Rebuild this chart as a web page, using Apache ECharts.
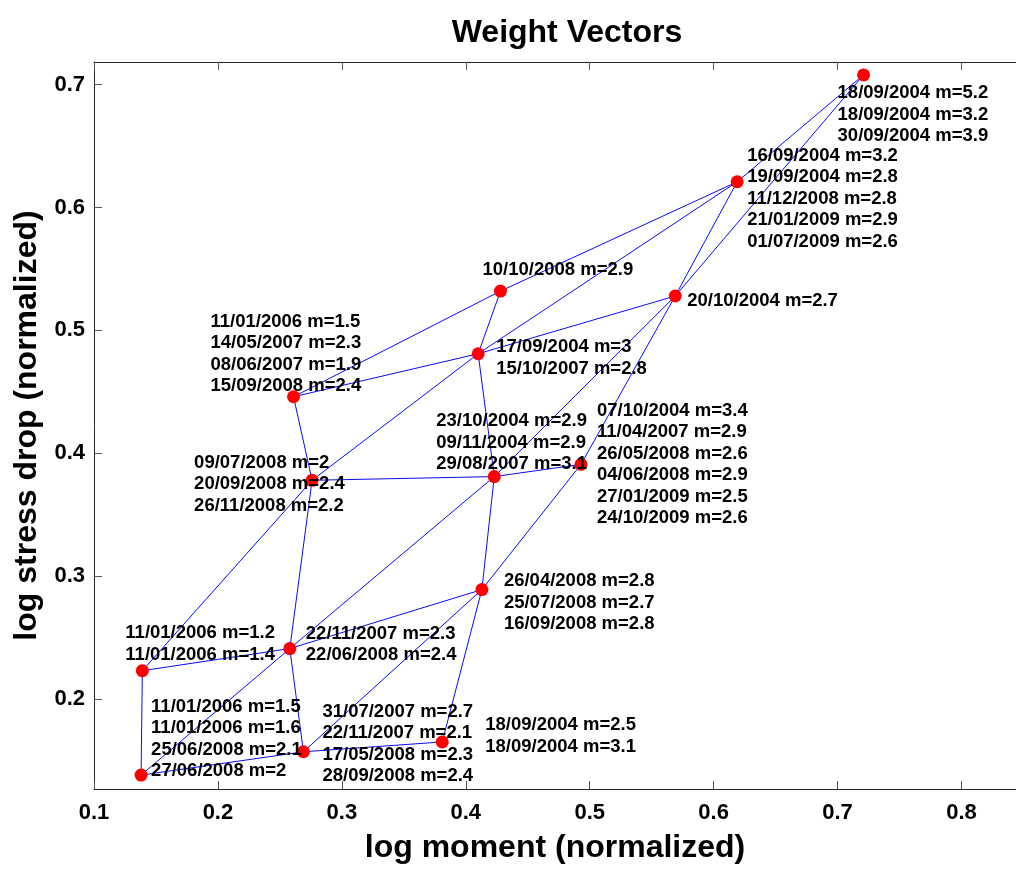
<!DOCTYPE html>
<html>
<head>
<meta charset="utf-8">
<script src="https://cdn.jsdelivr.net/npm/echarts@6/dist/echarts.min.js"></script>
<style>
  html, body { margin: 0; padding: 0; background: #fff; }
  #chart { width: 1016px; height: 869px; }
</style>
</head>
<body>
<div id="chart"></div>
<script>
// weight vector positions (log moment, log stress drop)
const nodeX = [0.721, 0.619, 0.569, 0.428, 0.410, 0.261, 0.276, 0.423, 0.493, 0.413, 0.258, 0.139, 0.138, 0.269, 0.381];
const nodeY = [0.708, 0.621, 0.528, 0.532, 0.481, 0.446, 0.378, 0.381, 0.391, 0.289, 0.241, 0.223, 0.138, 0.157, 0.165];

// events mapped to each node
const nodeEvents = [
    ['18/09/2004 m=5.2', '18/09/2004 m=3.2', '30/09/2004 m=3.9'],
    ['16/09/2004 m=3.2', '19/09/2004 m=2.8', '11/12/2008 m=2.8', '21/01/2009 m=2.9', '01/07/2009 m=2.6'],
    ['20/10/2004 m=2.7'],
    ['10/10/2008 m=2.9'],
    ['17/09/2004 m=3', '15/10/2007 m=2.8'],
    ['11/01/2006 m=1.5', '14/05/2007 m=2.3', '08/06/2007 m=1.9', '15/09/2008 m=2.4'],
    ['09/07/2008 m=2', '20/09/2008 m=2.4', '26/11/2008 m=2.2'],
    ['23/10/2004 m=2.9', '09/11/2004 m=2.9', '29/08/2007 m=3.1'],
    ['07/10/2004 m=3.4', '11/04/2007 m=2.9', '26/05/2008 m=2.6', '04/06/2008 m=2.9', '27/01/2009 m=2.5', '24/10/2009 m=2.6'],
    ['26/04/2008 m=2.8', '25/07/2008 m=2.7', '16/09/2008 m=2.8'],
    ['22/11/2007 m=2.3', '22/06/2008 m=2.4'],
    ['11/01/2006 m=1.2', '11/01/2006 m=1.4'],
    ['11/01/2006 m=1.5', '11/01/2006 m=1.6', '25/06/2008 m=2.1', '27/06/2008 m=2'],
    ['31/07/2007 m=2.7', '22/11/2007 m=2.1', '17/05/2008 m=2.3', '28/09/2008 m=2.4'],
    ['18/09/2004 m=2.5', '18/09/2004 m=3.1']
];

// neighbour links between nodes (index pairs)
const edges = [
    [0, 1], [0, 2], [1, 2], [1, 3], [1, 4], [2, 4], [2, 7], [2, 8],
    [3, 4], [3, 5], [4, 5], [4, 6], [4, 7], [5, 6], [6, 7], [6, 10],
    [6, 11], [7, 8], [7, 9], [7, 10], [8, 9], [9, 10], [9, 13], [9, 14],
    [10, 11], [10, 12], [10, 13], [11, 12], [12, 13], [13, 14]
];

const xTicks = [0.1, 0.2, 0.3, 0.4, 0.5, 0.6, 0.7, 0.8];
const yTicks = [0.2, 0.3, 0.4, 0.5, 0.6, 0.7];

// where each text block sits relative to its marker (px)
const labelOffsets = [
    [-26, 40], [10, 17], [12, 5], [-18, -21], [18, 4], [-83, -43], [-118, 4], [-58, -34],
    [16, 0], [22, 13], [16, -4], [-17, -27], [10, -36], [19, -8], [43, -6]
];

const font = 'Liberation Sans, Arial, Helvetica, sans-serif';
const axisColor = '#262626';

const chart = echarts.init(document.getElementById('chart'));

const nodes = nodeX.map((x, i) => ({
    name: 'n' + i,
    value: [x, nodeY[i]],
    label: {offset: labelOffsets[i]}
}));

const links = edges.map(([s, t]) => ({source: s, target: t}));

const option = {
    animation: false,
    backgroundColor: '#fff',
    title: {
        text: 'Weight Vectors',
        left: 562,
        textAlign: 'center',
        top: 12,
        textStyle: {fontFamily: font, fontSize: 32, fontWeight: 'bold', color: '#000'}
    },
    grid: {left: 94, right: -3, top: 62, bottom: 72, containLabel: false},
    xAxis: [{
        type: 'value',
        min: 0.1,
        max: 0.844,
        position: 'bottom',
        name: 'log moment (normalized)',
        nameLocation: 'middle',
        nameGap: 43,
        nameTextStyle: {fontFamily: font, fontSize: 32, fontWeight: 'bold', color: '#000'},
        axisLine: {show: true, lineStyle: {color: axisColor, width: 1}},
        axisTick: {show: true, inside: true, length: 8, customValues: xTicks, lineStyle: {color: '#555'}},
        axisLabel: {
            customValues: xTicks, margin: 13,
            fontFamily: font, fontSize: 22, fontWeight: 'bold', color: '#000',
            formatter: v => v.toFixed(1)
        },
        splitLine: {show: false}
    }, {
        type: 'value',
        min: 0.1,
        max: 0.844,
        position: 'top',
        axisLine: {show: true, onZero: false, lineStyle: {color: axisColor, width: 1}},
        axisTick: {show: true, inside: true, length: 8, customValues: xTicks, lineStyle: {color: '#555'}},
        axisLabel: {show: false},
        splitLine: {show: false}
    }],
    yAxis: [{
        type: 'value',
        min: 0.1267,
        max: 0.7185,
        name: 'log stress drop (normalized)',
        nameLocation: 'middle',
        nameGap: 50,
        nameTextStyle: {fontFamily: font, fontSize: 32, fontWeight: 'bold', color: '#000'},
        axisLine: {show: true, lineStyle: {color: axisColor, width: 1}},
        axisTick: {show: true, inside: true, length: 8, customValues: yTicks, lineStyle: {color: '#555'}},
        axisLabel: {
            customValues: yTicks, margin: 9,
            fontFamily: font, fontSize: 22, fontWeight: 'bold', color: '#000',
            formatter: v => v.toFixed(1)
        },
        splitLine: {show: false}
    }],
    series: [{
        type: 'graph',
        coordinateSystem: 'cartesian2d',
        layout: 'none',
        symbol: 'circle',
        symbolSize: 13,
        itemStyle: {color: '#ff0000'},
        lineStyle: {color: '#0a0aff', width: 1, opacity: 1, curveness: 0},
        emphasis: {disabled: true},
        silent: true,
        label: {
            show: true,
            position: 'inside',
            align: 'left',
            verticalAlign: 'middle',
            fontFamily: font,
            fontSize: 18.5,
            fontWeight: 'bold',
            color: '#000',
            lineHeight: 21.5,
            formatter: p => nodeEvents[p.dataIndex].join('\n')
        },
        data: nodes,
        links: links
    }]
};

chart.setOption(option);
</script>
</body>
</html>
